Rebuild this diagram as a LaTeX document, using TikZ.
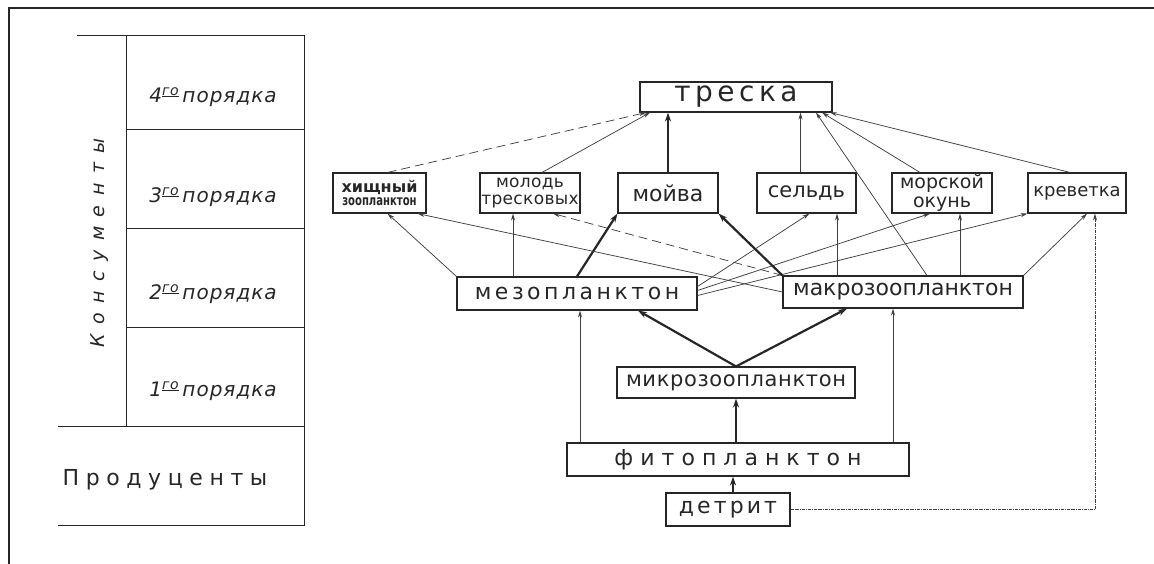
\documentclass[tikz,border=0pt]{standalone}
\usepackage{fontspec}
\setmainfont{DejaVu Sans}
\usetikzlibrary{arrows.meta}
\definecolor{ink}{HTML}{262626}
\definecolor{ink-thin}{HTML}{404040}
% size, letter spacing
\newcommand{\spaced}[2]{\fontsize{#1}{#1}\selectfont\addfontfeatures{LetterSpace=#2}}

\begin{document}
\begin{tikzpicture}[x=1pt, y=-1pt,
    box/.style={draw=ink, line width=1.1pt, inner sep=0pt, text=ink, align=center},
    feed/.style={draw=ink-thin, line width=0.75pt, -{Stealth[length=7pt,width=4pt]}},
    mainfeed/.style={draw=ink, line width=2.2pt, -{Stealth[length=9pt,width=6pt]}},
    weakfeed/.style={feed, dash pattern=on 9pt off 5pt},
    layer/.style={text=ink, font=\itshape\spaced{20}{5}},
]
    \useasboundingbox (0,0) rectangle (1154,564);

    % Frame
    \draw[ink, line width=1.6pt] (9,564) -- (9,8) -- (1154,8);

    % Trophic levels table
    \draw[ink, line width=1pt] (77,36) -- (304,36) -- (304,525) -- (58,525);
    \draw[ink, line width=1pt] (126,36) -- (126,426);
    \draw[ink, line width=1pt] (58,426) -- (304,426);
    \foreach \y in {130,229,327}
        \draw[ink, line width=1pt] (126,\y) -- (304,\y);

    \node[layer] (ord4) at (213,97) {4\textsuperscript{\underline{го}}\,порядка};
    \node[layer] (ord3) at (213,197) {3\textsuperscript{\underline{го}}\,порядка};
    \node[layer] (ord2) at (213,294) {2\textsuperscript{\underline{го}}\,порядка};
    \node[layer] (ord1) at (213,391) {1\textsuperscript{\underline{го}}\,порядка};
    \node[rotate=90, text=ink, font=\itshape\spaced{19}{50}] (kons) at (100,243) {Консументы};
    \node[text=ink, font=\spaced{22}{30}] (prod) at (165,480) {Продуценты};

    % Food web: predator
    \node[box, minimum width=192, minimum height=30, font=\spaced{28}{16}] (treska) at (736,97) {треска};

    % Consumers of the 3rd order
    \node[box, minimum width=93, minimum height=40] (hishch) at (379.5,193)
        {\bfseries\spaced{16}{0}хищный\\[1pt]\scalebox{0.72}[1]{\bfseries\spaced{14}{0}зоопланктон}};
    \node[box, minimum width=100, minimum height=40, font=\spaced{17}{2}] (molod) at (530,193)
        {молодь\\тресковых};
    \node[box, minimum width=100, minimum height=40, font=\spaced{22}{0}] (moiva) at (668,193) {мойва};
    \node[box, minimum width=99, minimum height=40, font=\spaced{21}{0}] (seld) at (806.5,193) {сельдь};
    \node[box, minimum width=100, minimum height=40, font=\spaced{19}{0}] (okun) at (942,193)
        {морской\\окунь};
    \node[box, minimum width=98, minimum height=40, font=\spaced{18}{0}] (krevetka) at (1077,193) {креветка};

    % Consumers of the 2nd and 1st order
    \node[box, minimum width=240, minimum height=33, font=\spaced{22}{16}] (mezo) at (577,293.5) {мезопланктон};
    \node[box, minimum width=240, minimum height=32, font=\spaced{22}{0}] (makro) at (903,292) {макрозоопланктон};
    \node[box, minimum width=238, minimum height=31, font=\spaced{21}{3}] (mikro) at (736,382.5) {микрозоопланктон};

    % Producers
    \node[box, minimum width=342, minimum height=33, font=\spaced{22}{32}] (fito) at (738,459.5) {фитопланктон};
    \node[box, minimum width=124, minimum height=33, font=\spaced{22}{14}] (detrit) at (728,509.5) {детрит};

    % Links to treska
    \draw[weakfeed] ([xshift=8]hishch.north) -- ([xshift=-90]treska.south);
    \draw[feed] ([xshift=12]molod.north) -- ([xshift=-86]treska.south);
    \draw[mainfeed] (moiva.north) -- (moiva.north |- treska.south);
    \draw[feed] ([xshift=-6]seld.north) -- ([xshift=-6]seld.north |- treska.south);
    \draw[feed] ([xshift=24]makro.north) -- ([xshift=80]treska.south);
    \draw[feed] ([xshift=-22]okun.north) -- ([xshift=86]treska.south);
    \draw[feed] ([xshift=-7]krevetka.north) -- ([xshift=94]treska.south);

    % Links from mezo
    \draw[feed] (mezo.north west) -- ([xshift=8]hishch.south);
    \draw[feed] ([xshift=-17]molod.south |- mezo.north) -- ([xshift=-17]molod.south);
    \draw[mainfeed] (mezo.north) -- (moiva.south west);
    \draw[feed] ([yshift=7]mezo.east) -- ([xshift=3]seld.south);
    \draw[feed] ([yshift=3]mezo.east) -- ([xshift=-12]okun.south);
    \draw[feed] ([yshift=-2]mezo.east) -- (krevetka.south west);

    % Links from makro
    \draw[feed] (makro.west) -- ([xshift=-9]hishch.south east);
    \draw[weakfeed] (makro.north west) -- ([xshift=23]molod.south);
    \draw[mainfeed] (makro.north west) -- (moiva.south east);
    \draw[feed] ([xshift=-66]makro.north) -- ([xshift=-66]makro.north |- seld.south);
    \draw[feed] ([xshift=57]makro.north) -- ([xshift=57]makro.north |- okun.south);
    \draw[feed] (makro.north east) -- ([xshift=10]krevetka.south);

    % Links from mikro, fito, detrit
    \draw[mainfeed] (mikro.north) -- ([xshift=61]mezo.south);
    \draw[mainfeed] (mikro.north) -- ([xshift=-56]makro.south);
    \draw[mainfeed] (fito.north -| mikro.south) -- (mikro.south);
    \draw[feed] ([xshift=3]mezo.south |- fito.north) -- ([xshift=3]mezo.south);
    \draw[feed] ([xshift=-10]makro.south |- fito.north) -- ([xshift=-10]makro.south);
    \draw[mainfeed] ([xshift=5]detrit.north) -- ([xshift=5]detrit.north |- fito.south);
    \draw[feed, densely dashdotted] (detrit.east) -| ([xshift=18]krevetka.south);
\end{tikzpicture}
\end{document}
